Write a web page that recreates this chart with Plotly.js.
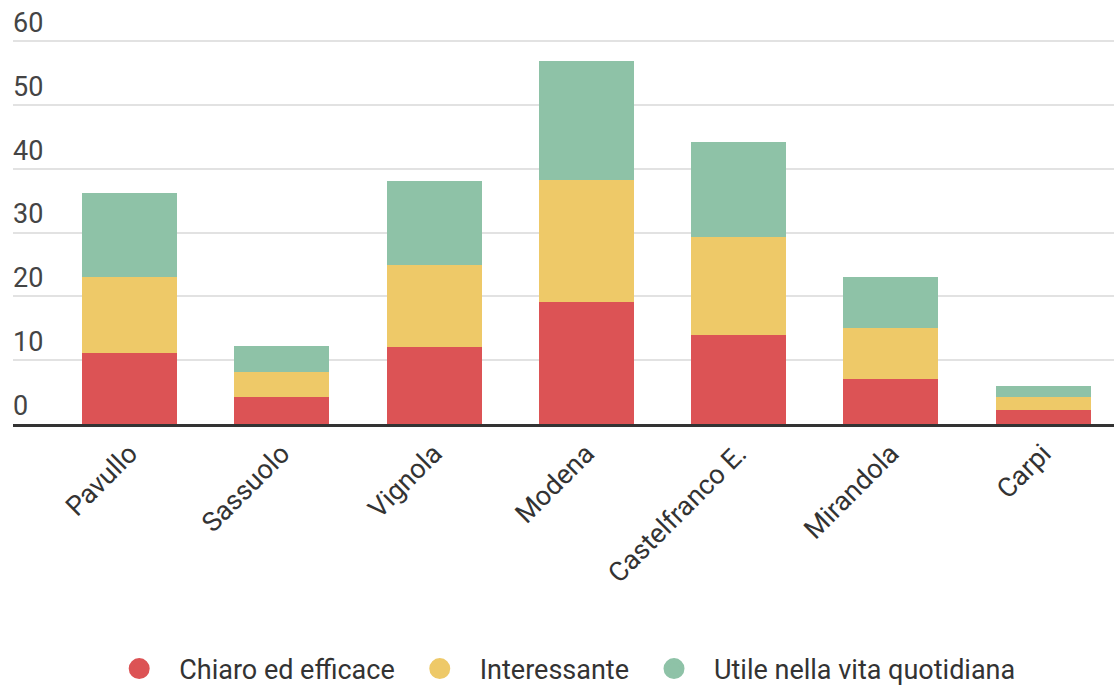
<!DOCTYPE html>
<html>
<head>
<meta charset="utf-8">
<script src="https://cdn.plot.ly/plotly-3.0.1.min.js"></script>
<style>html,body{margin:0;padding:0;background:#fff;}#chart{width:1114px;height:685px;}</style>
</head>
<body>
<div id="chart"></div>
<script>
const categories = ["Pavullo", "Sassuolo", "Vignola", "Modena", "Castelfranco E.", "Mirandola", "Carpi"];
const seriesNames = ["Chiaro ed efficace", "Interessante", "Utile nella vita quotidiana"];
const chiaro = [11.2, 4.3, 12.1, 19.1, 14.0, 7.1, 2.2];
const interessante = [11.8, 3.9, 12.9, 19.2, 15.3, 8.0, 2.0];
const utile = [13.3, 4.0, 13.1, 18.7, 14.9, 7.9, 1.8];
const colors = ["#dc5355", "#eec968", "#8ec2a7"];
const yTicks = [0, 10, 20, 30, 40, 50, 60];

const series = [chiaro, interessante, utile];
const traces = [];
series.forEach((vals, i) => {
  traces.push({
    type: "bar", x: categories, y: vals, name: seriesNames[i],
    marker: {color: colors[i], line: {width: 0}},
    showlegend: false, legendgroup: "g" + i, hoverinfo: "x+y+name"
  });
});
series.forEach((vals, i) => {
  traces.push({
    type: "scatter", mode: "markers", x: [null], y: [null], name: seriesNames[i],
    marker: {color: colors[i], size: 16, symbol: "circle", line: {color: colors[i], width: 5}},
    showlegend: true, legendgroup: "g" + i, hoverinfo: "skip"
  });
});

const layout = {
  width: 1114, height: 685,
  margin: {l: 13, r: 0, t: 0, b: 261, autoexpand: false},
  barmode: "stack",
  bargap: 0.376,
  paper_bgcolor: "#fff", plot_bgcolor: "#fff",
  font: {family: "Roboto, sans-serif", color: "#333"},
  xaxis: {
    type: "category",
    range: [-0.765, 6.466],
    tickangle: -45,
    tickfont: {size: 27, color: "#333"},
    showgrid: false, zeroline: false,
    showline: true, linecolor: "#333", linewidth: 3,
    ticks: "", ticklabelstandoff: 0, automargin: false
  },
  yaxis: {
    range: [0, 66.5],
    tickvals: yTicks,
    ticktext: yTicks.map(String),
    ticklabelposition: "inside top",
    ticklabelstandoff: -3,
    tickfont: {size: 27, color: "#444"},
    showgrid: true, gridcolor: "#e2e2e2", gridwidth: 2,
    zeroline: false, showline: false, ticks: "", automargin: false
  },
  showlegend: true,
  legend: {
    orientation: "h", x: 0.497, xanchor: "center", y: -0.578, yanchor: "middle",
    font: {size: 27, color: "#333"}, itemsizing: "trace", itemwidth: 70, itemclick: false
  }
};
Plotly.newPlot("chart", traces, layout, {displayModeBar: false});
</script>
</body>
</html>
